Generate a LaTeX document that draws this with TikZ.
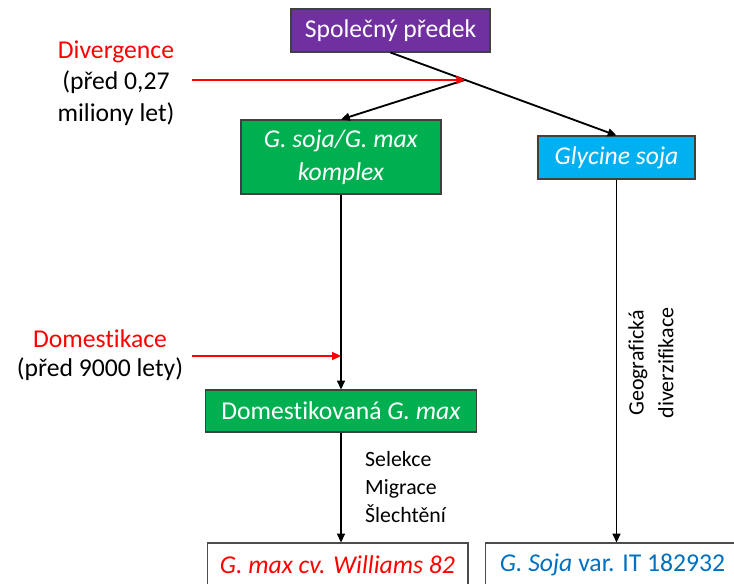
\documentclass[tikz,border=0pt]{standalone}
\usepackage{fontspec}
\setmainfont{Carlito}[Ligatures={NoCommon}]
\usetikzlibrary{arrows.meta,calc,positioning}
\definecolor{predekpurple}{HTML}{7030A0}
\definecolor{boxgreen}{HTML}{00B050}
\definecolor{boxcyan}{HTML}{00B0F0}
\definecolor{sojablue}{HTML}{0070C0}
\begin{document}
\begin{tikzpicture}[x=0.02cm,y=-0.02cm,
	box/.style={draw=black!75,line width=0.6pt,inner sep=0pt,align=center,text=white,font=\fontsize{14.6}{18.5}\selectfont},
	endbox/.style={box,fill=white,draw=black!70,text=black},
	note/.style={align=center,font=\fontsize{14.6}{18}\selectfont},
	small/.style={align=left,font=\fontsize{12.4}{15.9}\selectfont},
	arr/.style={-{Triangle[length=5pt,width=4.5pt]},line width=1.05pt},
	redarr/.style={arr,red}]

	\path[use as bounding box,clip] (0,0) rectangle (734,584);

	\node[box,fill=predekpurple,minimum width=3.98cm,minimum height=0.86cm] (predek) at (390.5,30.5) {Společný předek};
	\node[box,fill=boxgreen,minimum width=4cm,minimum height=1.48cm] (komplex) at (341,157) {\textit{G. soja/G. max}\\\textit{komplex}};
	\node[box,fill=boxcyan,minimum width=3.14cm,minimum height=0.86cm] (glycine) at (616.5,157.5) {\textit{Glycine soja}};
	\node[box,fill=boxgreen,minimum width=5.42cm,minimum height=0.84cm] (domest) at (341,411) {Domestikovaná \textit{G. max}};
	\node[endbox,text=red,minimum width=5.22cm,minimum height=0.88cm] (williams) at (337.5,565) {\textit{G. max cv. Williams 82}};
	\node[endbox,text=sojablue,minimum width=5.1cm,minimum height=0.88cm] (soja) at (612.5,565) {\textit{G. Soja} var. IT 182932};

	\node[note] (div) at (116,83) {\textcolor{red}{Divergence}\\(před 0,27\\miliony let)};
	\node[note,font=\fontsize{14.6}{16.5}\selectfont] (dom) at (100,355) {\textcolor{red}{Domestikace}\\(před 9000 lety)};
	\node[small,anchor=west] (sel) at (359,487) {Selekce\\Migrace\\Šlechtění};
	\node[small,align=center,font=\fontsize{12.5}{17}\selectfont,rotate=90] (geo) at (651,363) {Geografická\\diverzifikace};

	\coordinate (split) at ($(predek.south)!0.33!(glycine.north)$);
	\coordinate (divfrom) at (192,0);
	\coordinate (domfrom) at (192,356);
	\coordinate (domto) at (komplex.south |- domfrom);

	\draw[arr] (predek.south) -- (glycine.north);
	\draw[arr] (split) -- (komplex.north);
	\draw[arr] (komplex.south) -- (domest.north);
	\draw[arr] (domest.south) -- (domest.south |- williams.north);
	\draw[arr] (glycine.south) -- (glycine.south |- soja.north);

	\draw[redarr] (divfrom |- split) -- (split);
	\draw[redarr] (domfrom) -- (domto);

\end{tikzpicture}
\end{document}
